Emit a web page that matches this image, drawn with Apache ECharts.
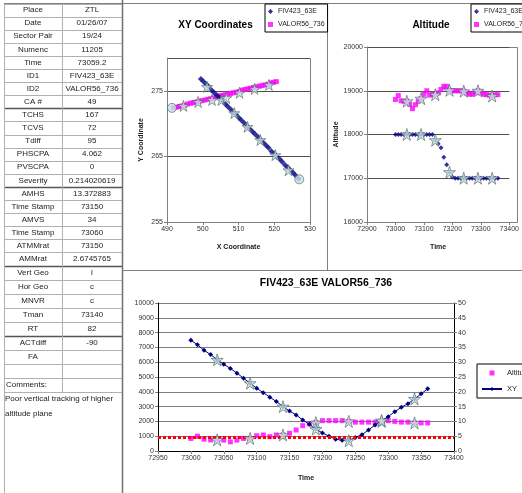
<!DOCTYPE html>
<html><head><meta charset="utf-8">
<script src="https://cdn.jsdelivr.net/npm/echarts@6/dist/echarts.min.js"></script>
<style>html,body{margin:0;padding:0;background:#fff}#wrap{position:relative;width:522px;height:493px;overflow:hidden}.layer{position:absolute;left:0;top:0;width:522px;height:493px}</style>
</head><body><div id="wrap"><div id="t" class="layer"></div><div id="a" class="layer"></div><div id="b" class="layer"></div><div id="c" class="layer"></div></div>
<script>
// ---------- table data ----------
const tableLabels = ['Place','Date','Sector Pair','Numenc','Time','ID1','ID2','CA #','TCHS','TCVS','Tdiff','PHSCPA','PVSCPA','Severity','AMHS','Time Stamp','AMVS','Time Stamp','ATMMrat','AMMrat','Vert Geo','Hor Geo','MNVR','Tman','RT','ACTdiff','FA',''];
const tableValues = ['ZTL','01/26/07','19/24','11205','73059.2','FIV423_63E','VALOR56_736','49','167','72','95','4.062','0','0.214020619','13.372883','73150','34','73060','73150','2.6745765','l','c','c','73140','82','-90','',''];
const commentLabel = 'Comments:';
const commentText = 'Poor vertical tracking of higher\naltitude plane';

// ---------- chart data ----------
const nameA = 'FIV423_63E';
const nameB = 'VALOR56_736';
const titleXY = 'XY Coordinates';
const titleAlt = 'Altitude';
const titleBottom = 'FIV423_63E VALOR56_736';

const times = [73000,73010,73020,73030,73040,73050,73060,73070,73080,73090,73100,73110,73120,73130,73140,73150,73160,73170,73180,73190,73200,73210,73220,73230,73240,73250,73260,73270,73280,73290,73300,73310,73320,73330,73340,73350,73360];
const starTimes = [73040,73090,73140,73190,73240,73290,73340];

// XY coordinates
const fivX = [499.5,500.2,501.0,501.7,502.5,503.2,504.0,504.8,505.5,506.3,507.0,507.8,508.6,509.3,510.1,510.8,511.6,512.4,513.1,513.9,514.6,515.4,516.2,516.9,517.7,518.4,519.2,520.0,520.7,521.5,522.2,523.0,523.8,524.5,525.3,526.0,526.8];
const fivY = [276.8,276.4,276.0,275.6,275.1,274.7,274.3,273.9,273.5,273.0,272.6,272.2,271.7,271.4,270.9,270.5,270.1,269.6,269.2,268.8,268.4,268.0,267.5,267.1,266.7,266.3,265.8,265.4,265.0,264.6,264.2,263.7,263.3,262.9,262.5,262.1,261.6];
const valX = [491.8,492.6,493.4,494.2,495.0,495.8,496.6,497.4,498.2,499.0,499.8,500.6,501.4,502.2,503.0,503.8,504.6,505.4,506.2,507.0,507.8,508.6,509.4,510.2,511.0,511.8,512.6,513.4,514.2,515.0,515.8,516.6,517.4,518.2,519.0,519.8,520.6];
const valY = [272.4,272.5,272.6,272.7,272.8,273.0,273.1,273.2,273.3,273.4,273.5,273.6,273.7,273.8,273.9,274.1,274.2,274.3,274.4,274.5,274.6,274.7,274.8,274.9,275.1,275.2,275.3,275.4,275.5,275.6,275.7,275.8,275.9,276.0,276.2,276.3,276.4];
const fivStarsXY = [[501.2,275.6],[505.2,273.6],[508.8,271.6],[512.5,269.5],[516.1,267.5],[520.3,265.2],[524.0,262.9]];
const valStarsXY = [[494.6,272.7],[498.7,273.3],[502.6,273.6],[506.6,273.9],[510.3,274.7],[514.5,275.3],[518.5,275.9]];
const endCirclesXY = [[491.4,272.4],[527.0,261.5]];

// Altitude
const altFiv = [18000,18000,18000,18000,18000,18000,18000,18000,18000,18000,18000,18000,18000,18000,17870,17790,17700,17480,17310,17140,17030,17000,17000,17000,17000,17000,17000,17000,17000,17000,17000,17000,17000,17000,17000,17000,17000];
const altVal = [18800,18890,18770,18760,18760,18690,18590,18680,18760,18820,18920,19000,18900,18920,18910,18950,19030,19100,19100,19010,19000,19000,19000,19000,18990,18950,18920,18920,18950,19000,18950,18920,18910,18900,18880,18910,18910];

// Bottom chart: altitude separation (left axis) and horizontal distance (right axis)
const altDiff = [850,1000,800,750,750,740,620,740,850,850,1030,1080,970,1080,1080,1200,1420,1710,1830,1920,2050,2050,2050,2050,2000,1950,1950,1950,1950,2000,2050,2000,1950,1950,1900,1900,1900];
const xyDist = [37.4,35.9,34.0,32.6,30.8,29.3,27.9,26.3,24.6,22.9,21.2,19.7,18.2,16.7,15.0,13.5,12.2,10.5,9.0,7.4,6.1,5.0,4.0,3.6,3.5,4.6,5.5,7.1,8.8,10.3,11.6,13.3,14.8,16.0,17.6,19.3,21.0];
const sepLevel = 900;

// ---------- helpers ----------
const FONT = '"Liberation Sans", Arial, sans-serif';
const NAVY = '#000080', MAG = '#FF00FF', RED = '#FF0000';
const STAR = 'path://M50,0L61.2,34.5L97.6,34.5L68.2,55.9L79.4,90.5L50,69.1L20.6,90.5L31.8,55.9L2.4,34.5L38.8,34.5Z';
const SQUARE = 'path://M0,0L10,0L10,10L0,10Z';
const pair = (xs, ys) => xs.map((x, i) => [x, ys[i]]);
const starsAt = vals => starTimes.map(t => [t, vals[times.indexOf(t)]]);
const seriesPts = vals => times.map((t, i) => [t, vals[i]]);
const C = o => JSON.parse(JSON.stringify(o));
const plain = v => String(v);

function draw(id, option) {
  const el = document.getElementById(id);
  try {
    const ch = echarts.init(el, null, {renderer:'canvas'});
    ch.setOption(option);
  } catch (e) {
    console.error(id + ': ' + e.message);
  }
}

// ---------- layer T: table, frames, titles ----------
const g = [];
const rowTop = i => i < 20 ? 3.5 + i * 13.1 : 266 + (i - 20) * 14;
const rowH = i => i < 20 ? 13.1 : 14;
const crisp = v => Math.round(v) + 0.5;
function hline(arr, x1, x2, y, color, w) { arr.push({type:'line', silent:true, shape:{x1:x1, y1:crisp(y), x2:x2, y2:crisp(y)}, style:{stroke:color, lineWidth:w||1}}); }
function vline(arr, x, y1, y2, color, w) { arr.push({type:'line', silent:true, shape:{x1:crisp(x), y1:y1, x2:crisp(x), y2:y2}, style:{stroke:color, lineWidth:w||1}}); }
function txt(arr, s, x, y, opt) {
  arr.push({type:'text', silent:true, x:x, y:y, style:Object.assign({text:s, fill:'#222', fontSize:8, fontFamily:FONT, align:'center', verticalAlign:'middle'}, opt || {})});
}
const heavy = [8, 14, 20, 25];
for (let b = 0; b <= 29; b++) {
  const y = b <= 28 ? rowTop(b) : 392;
  const isHeavy = heavy.indexOf(b) >= 0;
  hline(g, 4, 122, y, isHeavy ? '#555' : '#b0b0b0', isHeavy ? 1.3 : 1);
}
vline(g, 4, 3.5, 493, '#b0b0b0');
vline(g, 62, 3.5, 392, '#b0b0b0');
for (let i = 0; i < tableLabels.length; i++) {
  const cy = rowTop(i) + rowH(i) / 2;
  txt(g, tableLabels[i], 33, cy);
  txt(g, tableValues[i], 92, cy);
}
txt(g, commentLabel, 6, rowTop(28) + 7, {align:'left'});
txt(g, commentText, 5, 391, {align:'left', verticalAlign:'top', lineHeight:15});
hline(g, 4, 522, 3, '#808080', 1);
vline(g, 122, 0, 493, '#707070', 1.5);
vline(g, 327, 3, 270, '#808080', 1);
hline(g, 122, 522, 270, '#808080', 1);
txt(g, titleXY, 215.5, 25, {fontSize:10, fontWeight:'bold', fill:'#000'});
txt(g, titleAlt, 431, 25, {fontSize:10, fontWeight:'bold', fill:'#000'});
txt(g, titleBottom, 326, 283, {fontSize:10.5, fontWeight:'bold', fill:'#000'});
draw('t', {animation:false, graphic:g});

// ---------- shared axis styles ----------
const labelStyle = {fontSize:7, color:'#333', fontFamily:FONT, margin:4};
const nameStyle = {fontSize:7, fontWeight:'bold', color:'#222', fontFamily:FONT};
const tick = {show:true, length:3, lineStyle:{color:'#808080'}};
function xa(min, max, interval, name, gap, lineColor) {
  const a = C({type:'value', min:min, max:max, interval:interval, name:name, nameLocation:'middle', nameGap:gap, nameTextStyle:nameStyle,
    axisLine:{show:true, onZero:false, lineStyle:{color:lineColor}}, axisTick:tick, axisLabel:labelStyle, splitLine:{show:false}});
  a.axisLabel.formatter = plain;
  return a;
}
function ya(min, max, interval, name, gap, lineColor, split, pos) {
  const a = C({type:'value', min:min, max:max, interval:interval, name:name, nameLocation:'middle', nameGap:gap, nameRotate:90, nameTextStyle:nameStyle,
    position:pos || 'left', axisLine:{show:true, onZero:false, lineStyle:{color:lineColor}}, axisTick:tick, axisLabel:labelStyle,
    splitLine:{show:!!split, lineStyle:{color:split || '#000', width:1}}});
  a.axisLabel.formatter = plain;
  return a;
}
const starStyle = {color:'#c4e4e4', borderColor:'#506060', borderWidth:0.8};
const legendBase = {orient:'vertical', selectedMode:false, borderColor:'#000', borderWidth:1, backgroundColor:'#fff',
  itemWidth:5, itemHeight:5, itemGap:6, padding:[4,3,4,3], textStyle:{fontSize:7, color:'#222', fontFamily:FONT}};
function frame(x, y, w, h) {
  return [{type:'rect', silent:true, z:-1, shape:{x:x + 0.5, y:y + 0.5, width:w, height:h}, style:{fill:'none', stroke:'#808080', lineWidth:1}}];
}

// ---------- layer A: XY coordinates ----------
const yXY = ya(255, 280, 10, 'Y Coordinate', 22, '#808080', '#505050');
yXY.axisLabel.showMaxLabel = false;
draw('a', {
  animation:false,
  grid:{left:167, top:58, width:143, height:164},
  xAxis:xa(490, 530, 10, 'X Coordinate', 22, '#808080'),
  yAxis:yXY,
  legend:Object.assign(C(legendBase), {left:265, top:4, data:[nameA, nameB]}),
  graphic:frame(167, 58, 143, 164),
  series:[
    {name:nameB, type:'scatter', symbol:'rect', symbolSize:5, itemStyle:{color:MAG}, data:pair(valX, valY), z:2},
    {name:nameA, type:'scatter', symbol:'diamond', symbolSize:6, itemStyle:{color:NAVY}, data:pair(fivX, fivY), z:3},
    {name:'endpoints', type:'scatter', symbol:'circle', symbolSize:9, itemStyle:starStyle, data:endCirclesXY, z:4},
    {name:'marks', type:'scatter', symbol:STAR, symbolSize:11, itemStyle:starStyle, data:fivStarsXY.concat(valStarsXY), z:5}
  ]
});

// ---------- layer B: Altitude ----------
draw('b', {
  animation:false,
  grid:{left:367, top:47, width:150, height:175},
  xAxis:xa(72900, 73400, 100, 'Time', 22, '#808080'),
  yAxis:ya(16000, 20000, 1000, 'Altitude', 26, '#808080', '#505050'),
  legend:Object.assign(C(legendBase), {left:471, top:4, data:[nameA, nameB]}),
  graphic:frame(367, 47, 150, 175),
  series:[
    {name:nameA, type:'scatter', symbol:'diamond', symbolSize:5, itemStyle:{color:NAVY}, data:seriesPts(altFiv), z:3},
    {name:nameB, type:'scatter', symbol:'rect', symbolSize:5, itemStyle:{color:MAG}, data:seriesPts(altVal), z:2},
    {name:'marks', type:'scatter', symbol:STAR, symbolSize:12, itemStyle:starStyle, data:starsAt(altFiv).concat(starsAt(altVal)), z:5}
  ]
});

// ---------- layer C: separation over time ----------
draw('c', {
  animation:false,
  grid:{left:158, top:303, width:296, height:148},
  xAxis:xa(72950, 73400, 50, 'Time', 24, '#000'),
  yAxis:[ya(0, 10000, 1000, '', 0, '#000', '#808080'), ya(0, 50, 5, '', 0, '#000', null, 'right')],
  legend:Object.assign(C(legendBase), {left:477, top:364, itemWidth:20, itemHeight:5, itemGap:8, padding:[5,4,5,4], symbolKeepAspect:true,
    textStyle:{fontSize:7.5, color:'#222', fontFamily:FONT}, data:[{name:'Altitude', icon:SQUARE}, {name:'XY'}]}),
  series:[
    {name:'Altitude', type:'scatter', yAxisIndex:0, symbol:'rect', symbolSize:5, itemStyle:{color:MAG}, data:seriesPts(altDiff), z:3,
      markLine:{silent:true, symbol:['none','none'], label:{show:false}, lineStyle:{color:RED, width:3, type:[3,2]}, data:[{yAxis:sepLevel}]}},
    {name:'XY', type:'line', yAxisIndex:1, symbol:'diamond', symbolSize:5, showSymbol:true, itemStyle:{color:NAVY}, lineStyle:{color:NAVY, width:1}, data:seriesPts(xyDist), z:4},
    {name:'marksAlt', type:'scatter', yAxisIndex:0, symbol:STAR, symbolSize:12, itemStyle:starStyle, data:starsAt(altDiff), z:6},
    {name:'marksXY', type:'scatter', yAxisIndex:1, symbol:STAR, symbolSize:12, itemStyle:starStyle, data:starsAt(xyDist), z:6}
  ]
});
</script>
</body></html>
